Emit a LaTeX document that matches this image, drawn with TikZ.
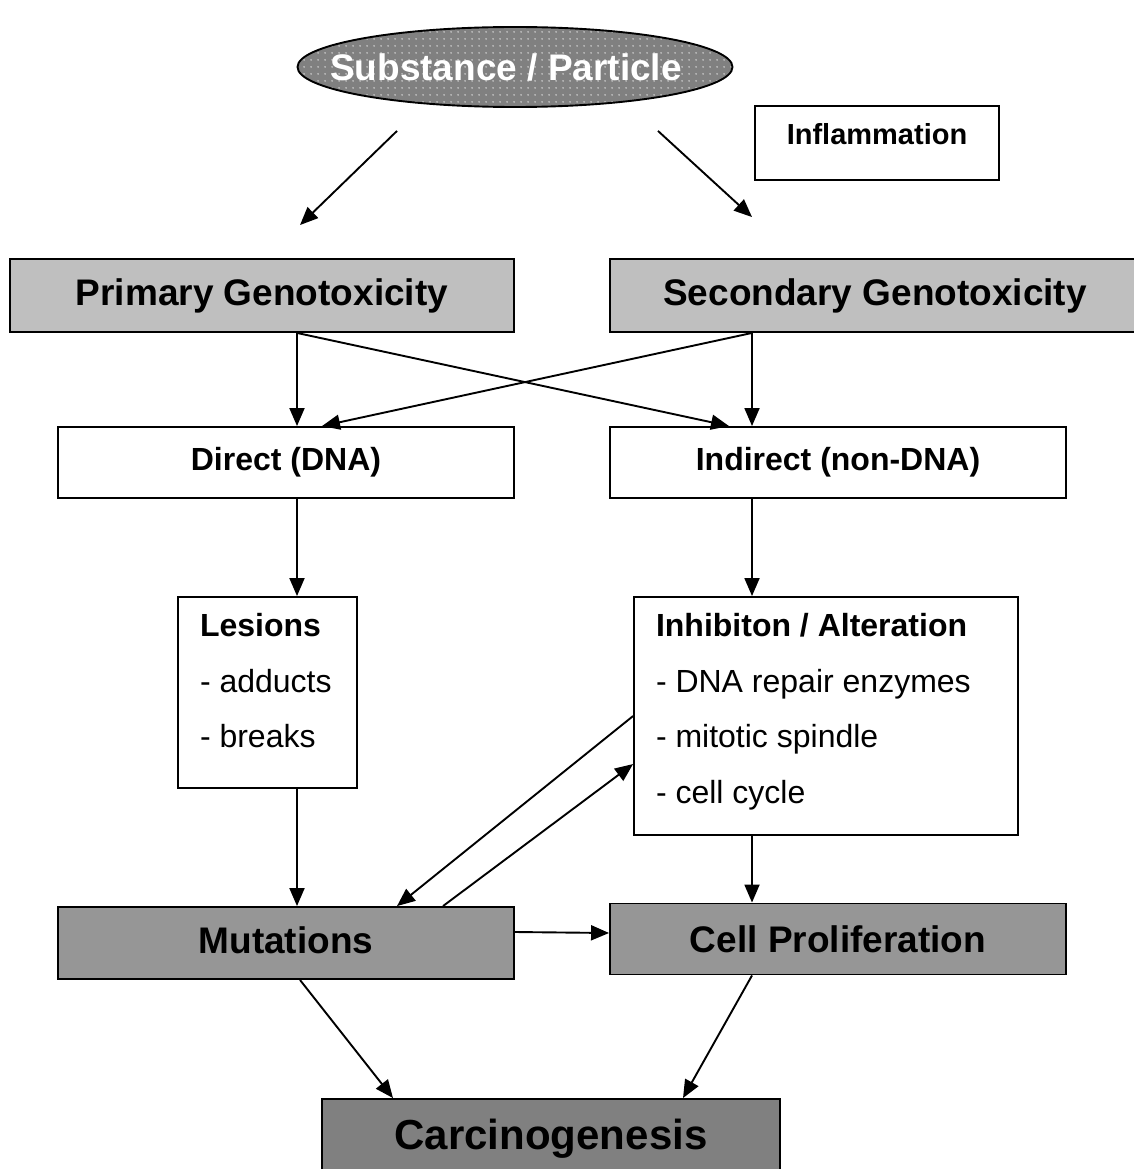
\documentclass[tikz,border=0pt]{standalone}
\usepackage{fontspec}
\setmainfont{Liberation Sans}
\usetikzlibrary{calc}
\usetikzlibrary{arrows.meta}
\usetikzlibrary{patterns.meta}
\usetikzlibrary{shapes.geometric}

\tikzdeclarepattern{
  name=whitedots,
  type=uncolored,
  bounding box={(0pt,0pt) and (7pt,7pt)},
  tile size={(7pt,7pt)},
  code={\fill (3.5pt,3.5pt) circle [radius=0.9pt];}
}

\tikzset{
  box/.style={draw, rectangle, inner sep=0pt, align=center},
  bigtxt/.style={font=\fontsize{37}{44}\selectfont\bfseries},
  midtxt/.style={font=\fontsize{32}{38}\selectfont\bfseries},
  listtxt/.style={font=\fontsize{32}{55.5}\selectfont, align=left, inner sep=0pt, anchor=north west},
}

\begin{document}
\begin{tikzpicture} [x=1pt, y=-1pt, line width=1.9pt, >={Triangle[length=18pt,width=15pt]}]
\useasboundingbox (0,0) rectangle (1133,1169);
\coordinate (lx) at (297,0);
\coordinate (rx) at (752,0);

\node[ellipse, draw, minimum width=435pt, minimum height=80pt, inner sep=0pt, preaction={fill=black!50}, pattern=whitedots, pattern color=white!90!black] (subst) at (515,67) {};
\node[text=white, bigtxt, inner sep=0pt] (substtxt) at ($(subst.center)+(-9,0)$) {Substance / Particle};
\node[box, minimum width=244pt, minimum height=74pt, font=\fontsize{29}{35}\selectfont\bfseries, text height=21pt, text depth=18pt] (inflam) at (877,143) {Inflammation};

\node[box, fill=black!25, minimum width=504pt, minimum height=73pt, bigtxt] (primary) at (262,295.5) {Primary Genotoxicity};
\node[box, fill=black!25, minimum width=530pt, minimum height=73pt, bigtxt] (secondary) at (875,295.5) {Secondary Genotoxicity};

\node[box, minimum width=456pt, minimum height=71pt, midtxt] (direct) at (286,462.5) {Direct (DNA)};
\node[box, minimum width=456pt, minimum height=71pt, midtxt] (indirect) at (838,462.5) {Indirect (non-DNA)};

\node[box, minimum width=179pt, minimum height=191pt] (lesions) at (267.5,692.5) {};
\node[listtxt] (lesionstxt) at ($(lesions.north west)+(22,16.5)$) {\textbf{Lesions}\\- adducts\\- breaks};
\node[box, minimum width=384pt, minimum height=238pt] (inhib) at (826,716) {};
\node[listtxt] (inhibtxt) at ($(inhib.north west)+(22,16.5)$) {\textbf{Inhibiton / Alteration}\\- DNA repair enzymes\\- mitotic spindle\\- cell cycle};

\node[box, fill=black!41, minimum width=456pt, minimum height=72pt, bigtxt, text height=27pt, text depth=6pt] (mut) at (286,943) {Mutations};
\node[box, fill=black!41, minimum width=456pt, minimum height=71pt, bigtxt] (cell) at (838,939) {Cell Proliferation};
\node[box, fill=black!50, minimum width=458pt, minimum height=72pt, font=\fontsize{42}{50}\selectfont\bfseries, text height=30pt, text depth=2pt] (carc) at (551,1135) {Carcinogenesis};

\draw[->] ($(subst.south)+(-118,23)$) -- ($(primary.north)+(38,-33)$);
\draw[->] ($(subst.south)+(143,23)$) -- ($(secondary.north)+(-123,-41)$);
\draw[->] (lx |- primary.south) -- (lx |- direct.north);
\draw[->] (lx |- primary.south) -- ($(indirect.north)+(-109,0)$);
\draw[->] (rx |- secondary.south) -- (rx |- indirect.north);
\draw[->] (rx |- secondary.south) -- ($(direct.north)+(36,0)$);
\draw[->] (lx |- direct.south) -- (lx |- lesions.north);
\draw[->] (rx |- indirect.south) -- (rx |- inhib.north);
\draw[->] (lx |- lesions.south) -- (lx |- mut.north);
\draw[->] ($(inhib.north west)+(0,120)$) -- ($(mut.north)+(111,0)$);
\draw[->] ($(mut.north)+(157,0)$) -- ($(inhib.north west)+(0,168)$);
\draw[->] (rx |- inhib.south) -- (rx |- cell.north);
\draw[->] ($(mut.east)+(0,-11)$) -- ($(cell.west)+(0,-6)$);
\draw[->] ($(mut.south)+(14,0)$) -- ($(carc.north)+(-158,0)$);
\draw[->] (rx |- cell.south) -- ($(carc.north)+(132,0)$);
\end{tikzpicture}
\end{document}
